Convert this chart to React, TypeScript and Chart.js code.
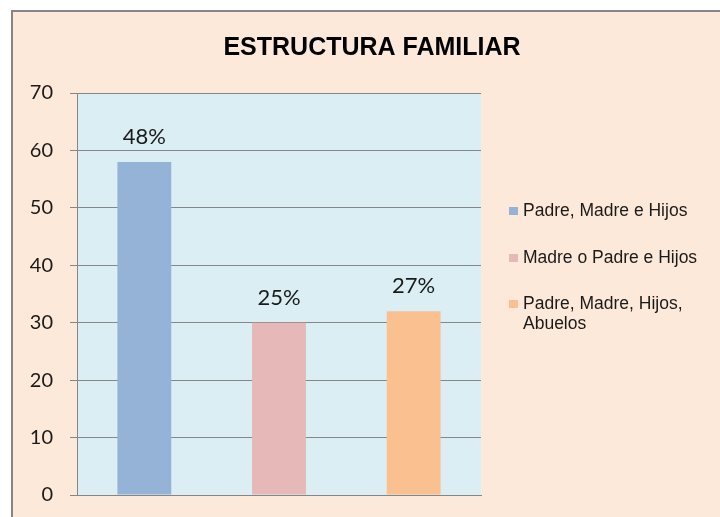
import React, { useEffect, useRef } from 'react';
import { Chart, registerables } from 'chart.js';

Chart.register(...registerables);

const titleText = 'ESTRUCTURA FAMILIAR';
const categories = ['Padre, Madre e Hijos', 'Madre o Padre e Hijos', 'Padre, Madre, Hijos, Abuelos'];
const legendLines = [['Padre, Madre e Hijos'], ['Madre o Padre e Hijos'], ['Padre, Madre, Hijos,', 'Abuelos']];
const values = [58, 30, 32];
const percentLabels = ['48%', '25%', '27%'];
const barColors = ['#95B3D7', '#E6B9B8', '#FAC090'];
const yMin = 0;
const yMax = 70;
const yStep = 10;

const PEACH = '#FDE9D9';
const PLOT_BG = '#DAEEF3';
const GRAY = '#868686';

export default function App() {
  const ref = useRef<HTMLCanvasElement | null>(null);

  useEffect(() => {
    if (!ref.current) return;

    const plotBg = {
      id: 'plotBg',
      beforeDraw(chart: any) {
        const { ctx, chartArea } = chart;
        ctx.save();
        ctx.fillStyle = PLOT_BG;
        ctx.fillRect(chartArea.left, chartArea.top, chartArea.right - chartArea.left, chartArea.bottom - chartArea.top);
        ctx.restore();
      },
    };

    const valueLabels = {
      id: 'valueLabels',
      afterDatasetsDraw(chart: any) {
        const { ctx } = chart;
        const meta = chart.getDatasetMeta(0);
        ctx.save();
        ctx.font = '22px Lato';
        ctx.fillStyle = '#1a1a1a';
        ctx.textAlign = 'center';
        ctx.textBaseline = 'middle';
        meta.data.forEach((el: any, i: number) => {
          ctx.fillText(percentLabels[i], el.x, el.y - 25);
        });
        ctx.restore();
      },
    };

    const titleAndLegend = {
      id: 'titleAndLegend',
      afterDraw(chart: any) {
        const { ctx, chartArea } = chart;
        ctx.save();
        ctx.font = 'bold 25px "Liberation Sans"';
        ctx.fillStyle = '#000000';
        ctx.textAlign = 'center';
        ctx.textBaseline = 'middle';
        ctx.fillText(titleText, 359, chartArea.top - 45);

        const x0 = chartArea.right + 28;
        const offsets = [118, 165, 211];
        ctx.font = '17.5px "Liberation Sans"';
        ctx.textBaseline = 'middle';
        ctx.textAlign = 'left';
        legendLines.forEach((lines, i) => {
          const cy = chartArea.top + offsets[i];
          ctx.fillStyle = barColors[i];
          ctx.fillRect(x0, cy - 4, 9, 8);
          ctx.fillStyle = '#1a1a1a';
          lines.forEach((ln, j) => {
            ctx.fillText(ln, x0 + 14, cy + j * 20);
          });
        });
        ctx.restore();
      },
    };

    const chart = new Chart(ref.current, {
      type: 'bar',
      data: {
        labels: categories,
        datasets: [
          {
            data: values,
            backgroundColor: barColors,
            barPercentage: 0.4,
            categoryPercentage: 1,
          },
        ],
      },
      options: {
        responsive: false,
        animation: false,
        layout: { padding: { left: 0, right: 239, top: 81, bottom: 22 } },
        plugins: {
          legend: { display: false },
          tooltip: { enabled: false },
          title: { display: false },
        },
        scales: {
          x: {
            ticks: { display: false },
            grid: { display: false, drawTicks: false },
            border: { display: true, color: GRAY, width: 1 },
            afterFit(scale: any) {
              scale.height = 0;
            },
          },
          y: {
            min: yMin,
            max: yMax,
            ticks: {
              stepSize: yStep,
              color: '#1a1a1a',
              font: { family: 'Lato', size: 20 },
              padding: 17,
            },
            grid: { color: GRAY, lineWidth: 1, tickLength: 7, drawTicks: true, tickColor: GRAY },
            border: { display: true, color: GRAY, width: 1 },
            afterFit(scale: any) {
              scale.width = 64;
              scale.paddingTop = 0;
              scale.paddingBottom = 0;
            },
          },
        },
      },
      plugins: [plotBg, valueLabels, titleAndLegend],
    } as any);

    return () => chart.destroy();
  }, []);

  return (
    <div style={{ position: 'fixed', left: 0, top: 0, width: 720, height: 517, overflow: 'hidden', background: '#ffffff' }}>
      <div
        style={{
          position: 'absolute',
          left: 11,
          top: 10,
          width: 720,
          height: 520,
          background: PEACH,
          borderLeft: `2px solid ${GRAY}`,
          borderTop: `2px solid ${GRAY}`,
        }}
      >
        <canvas ref={ref} width={707} height={505} style={{ display: 'block' }} />
      </div>
    </div>
  );
}
